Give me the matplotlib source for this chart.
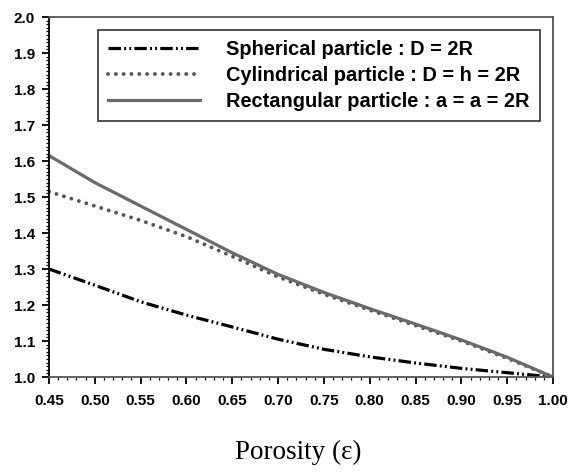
#!/usr/bin/env python3

import matplotlib
matplotlib.use("Agg")
import matplotlib.pyplot as plt
from matplotlib.ticker import MultipleLocator

# porosity values
porosity = [0.45, 0.50, 0.55, 0.60, 0.65, 0.70, 0.75, 0.80, 0.85, 0.90, 0.95, 1.00]
spherical = [1.300, 1.255, 1.209, 1.172, 1.139, 1.105, 1.077, 1.056, 1.039, 1.024, 1.012, 1.000]
cylindrical = [1.515, 1.475, 1.435, 1.390, 1.335, 1.278, 1.230, 1.186, 1.143, 1.100, 1.052, 1.000]
rectangular = [1.615, 1.540, 1.475, 1.410, 1.345, 1.285, 1.235, 1.190, 1.147, 1.103, 1.055, 1.000]

labels = ["Spherical particle : D = 2R",
          "Cylindrical particle : D = h = 2R",
          "Rectangular particle : a = a = 2R"]

plt.rcParams['font.family'] = ['Liberation Sans', 'DejaVu Sans']

fig = plt.figure(figsize=(5.69, 4.75), dpi=100)
ax = fig.add_axes([0.0861, 0.2063, 0.8858, 0.7579])

# draw the three curves
ax.plot(porosity, spherical, color='black', lw=2.3,
        dashes=(3.9, 1.0, 0.6, 1.0, 0.6, 1.0), label=labels[0])
ax.plot(porosity, cylindrical, color='#555555', lw=2.8,
        linestyle=(0, (0.01, 2.0)), dash_capstyle='round', label=labels[1])
ax.plot(porosity, rectangular, color='#6a6a6a', lw=2.3, label=labels[2])

ax.set_xlim(0.45, 1.00)
ax.set_ylim(1.0, 2.0)
ax.xaxis.set_major_locator(MultipleLocator(0.05))
ax.xaxis.set_minor_locator(MultipleLocator(0.01))
ax.yaxis.set_major_locator(MultipleLocator(0.1))
ax.yaxis.set_minor_locator(MultipleLocator(0.01))
ax.xaxis.set_major_formatter(plt.FormatStrFormatter('%.2f'))
ax.yaxis.set_major_formatter(plt.FormatStrFormatter('%.1f'))

ax.tick_params(which='major', direction='out', length=5, width=1.3,
               labelsize=11, top=False, right=False)
ax.tick_params(axis='x', which='major', pad=7.5)
ax.tick_params(axis='y', which='major', pad=5)
ax.tick_params(which='minor', direction='out', length=2.5, width=0.9,
               top=False, right=False)
for lab in ax.get_xticklabels() + ax.get_yticklabels():
    lab.set_fontweight('bold')

ax.spines['left'].set_color('black')
ax.spines['left'].set_linewidth(1.3)
for s in ['bottom', 'top', 'right']:
    ax.spines[s].set_color('#555555')
    ax.spines[s].set_linewidth(1.3)

leg = ax.legend(loc='upper right', bbox_to_anchor=(0.974, 0.964),
                borderaxespad=0,
                prop={'weight': 'bold', 'size': 14.4}, handlelength=4.6,
                fancybox=False, edgecolor='#333333', framealpha=1,
                borderpad=0.5, labelspacing=0.36, handletextpad=1.3)
leg.get_frame().set_linewidth(1.2)

fig.text(298 / 569, 1 - 459 / 475, "Porosity (ε)", ha='center', va='baseline',
         fontsize=19.5, family=['Liberation Serif', 'DejaVu Serif'])

fig.savefig("out.png", dpi=100)
